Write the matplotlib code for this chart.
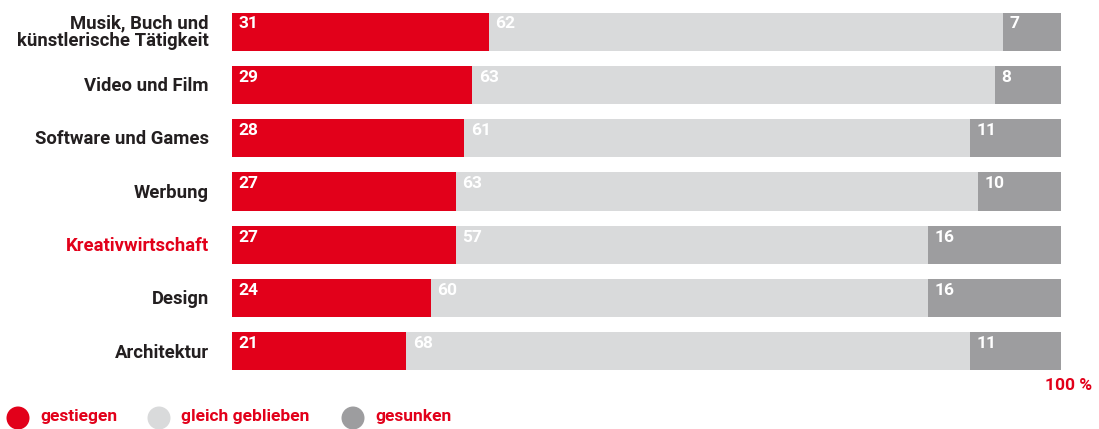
import matplotlib
matplotlib.use("Agg")
import matplotlib.pyplot as plt
from matplotlib.patches import Circle

categories = ["Musik, Buch und\nkünstlerische Tätigkeit", "Video und Film", "Software und Games",
              "Werbung", "Kreativwirtschaft", "Design", "Architektur"]
gestiegen = [31, 29, 28, 27, 27, 24, 21]
gleich = [62, 63, 61, 63, 57, 60, 68]
gesunken = [7, 8, 11, 10, 16, 16, 11]
series_names = ["gestiegen", "gleich geblieben", "gesunken"]
highlight = "Kreativwirtschaft"

RED = "#E2001A"
LIGHT = "#D9DADB"
DARK = "#9D9D9F"
TEXT = "#231F20"
colors = [RED, LIGHT, DARK]
FONT = "Roboto"

W, H = 1099, 429
fig = plt.figure(figsize=(W / 100, H / 100), dpi=100)
ax = fig.add_axes([232 / W, (H - 370.5) / H, (1061 - 232) / W, (370.5 - 12.5) / H])

n = len(categories)
spacing = 53.3
bh = 38 / spacing
ys = list(range(n))
lefts = [0] * n
for vals, col in zip([gestiegen, gleich, gesunken], colors):
    ax.barh(ys, vals, left=lefts, height=bh, color=col, edgecolor="none")
    for y, l, v in zip(ys, lefts, vals):
        ax.text(l + 0.8, y - bh / 2 + 0.07, str(v), color="white", fontsize=12.5,
                fontweight="bold", family=FONT, ha="left", va="top")
    lefts = [a + b for a, b in zip(lefts, vals)]

ax.set_xlim(0, 100)
ax.set_ylim(n - 1 + bh / 2, -bh / 2)
ax.axis("off")

for y, c in zip(ys, categories):
    ax.text(-2.8, y + 0.02, c, ha="right", va="center", fontsize=13.3, fontweight="bold", family=FONT,
            color=RED if c == highlight else TEXT, linespacing=0.95)

ax.text(1.0 + 31 / 829, -0.022, "100 %", transform=ax.transAxes, ha="right", va="top",
        fontsize=12.5, fontweight="bold", family=FONT, color=RED)

ov = fig.add_axes([0, 0, 1, 1])
ov.set_xlim(0, W)
ov.set_ylim(H, 0)
ov.axis("off")
ov.patch.set_alpha(0)
leg_x = [18, 159, 353]
for x, name, col in zip(leg_x, series_names, colors):
    ov.add_patch(Circle((x, 418), 11.5, color=col, lw=0))
    ov.text(x + 22, 417, name, ha="left", va="center", fontsize=12.5, fontweight="bold",
            family=FONT, color=RED)

fig.savefig("out.png", dpi=100)
